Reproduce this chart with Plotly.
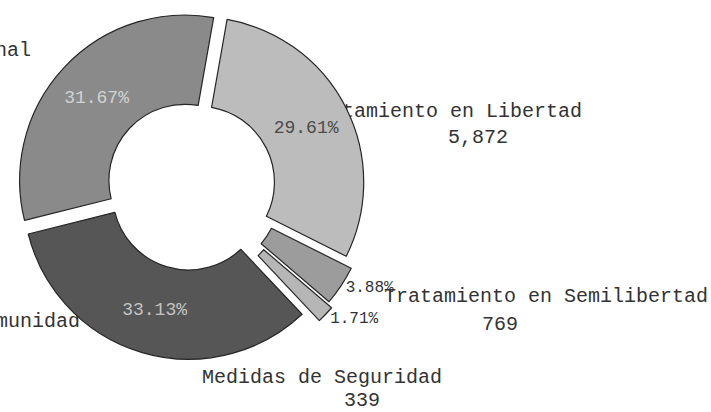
"""Donut chart: población por tipo de tratamiento (scanned figure recreation)."""

import plotly.graph_objects as go

# ---- data -------------------------------------------------------------
LABELS = [
    "Tratamiento en Libertad",
    "Tratamiento en Semilibertad",
    "Medidas de Seguridad",
    "Trabajo a Favor de la Comunidad",
    "Tratamiento Institucional",
]
VALUES = [5872, 769, 339, 6570, 6281]

# ---- styling ----------------------------------------------------------
FONT = "Liberation Mono, Courier New, monospace"
SLICE_COLORS = ["#bcbcbc", "#9c9c9c", "#b6b6b6", "#565656", "#8a8a8a"]
PCT_COLORS = ["#4a4a4a", "#333333", "#333333", "#c4c4c4", "#d2d2d2"]
PULLS = [0.05, 0.09, 0.125, 0.05, 0.05]
TEXT_POS = ["inside", "outside", "outside", "inside", "inside"]

W, H = 711, 412
CX, CY = 191, 186
BOX = 372  # pie box (pixels); radius = BOX / (2 + 2 * max pull)

# outer label anchors in pixel space: (x, y, textposition)
NAME_POS = [
    (444, 112, "middle center"),
    (546, 297, "middle center"),
    (322, 378, "middle center"),
    (80, 322, "middle left"),
    (31, 51, "middle left"),
]
# numbers of the two left-hand groups fall outside the cropped picture
NUM_POS = [(478, 138), (500, 325), (362, 401)]

label_x = [p[0] for p in NAME_POS] + [p[0] for p in NUM_POS]
label_y = [p[1] for p in NAME_POS] + [p[1] for p in NUM_POS]
label_text = LABELS + [f"{v:,}" for v in VALUES[: len(NUM_POS)]]
label_where = [p[2] for p in NAME_POS] + ["middle center"] * len(NUM_POS)

fig = go.Figure()

# outer labels sit on a hidden pixel-space axis so the pie draws over them
fig.add_trace(
    go.Scatter(
        x=label_x,
        y=label_y,
        mode="text",
        text=label_text,
        textposition=label_where,
        textfont=dict(family=FONT, size=20, color="#333333"),
        cliponaxis=False,
        hoverinfo="skip",
        showlegend=False,
    )
)

fig.add_trace(
    go.Pie(
        labels=LABELS,
        values=VALUES,
        sort=False,
        direction="clockwise",
        rotation=10,
        hole=0.46,
        pull=PULLS,
        marker=dict(colors=SLICE_COLORS, line=dict(color="#262626", width=1.2)),
        texttemplate="%{percent:.2%}",
        textposition=TEXT_POS,
        insidetextorientation="horizontal",
        insidetextfont=dict(family=FONT, size=18, color=PCT_COLORS),
        outsidetextfont=dict(family=FONT, size=16, color="#333333"),
        domain=dict(
            x=[(CX - BOX / 2) / W, (CX + BOX / 2) / W],
            y=[1 - (CY + BOX / 2) / H, 1 - (CY - BOX / 2) / H],
        ),
        showlegend=False,
    )
)

fig.update_layout(
    width=W,
    height=H,
    margin=dict(l=0, r=0, t=0, b=0, autoexpand=False),
    paper_bgcolor="white",
    plot_bgcolor="white",
    showlegend=False,
    xaxis=dict(range=[0, W], visible=False, fixedrange=True, automargin=False),
    yaxis=dict(range=[H, 0], visible=False, fixedrange=True, automargin=False),
)

# drop the browser's default 8px body margin so the figure sits at (0, 0)
fig.write_html(
    "out.html",
    config={"displayModeBar": False},
    post_script="document.body.style.margin = '0px';",
)
